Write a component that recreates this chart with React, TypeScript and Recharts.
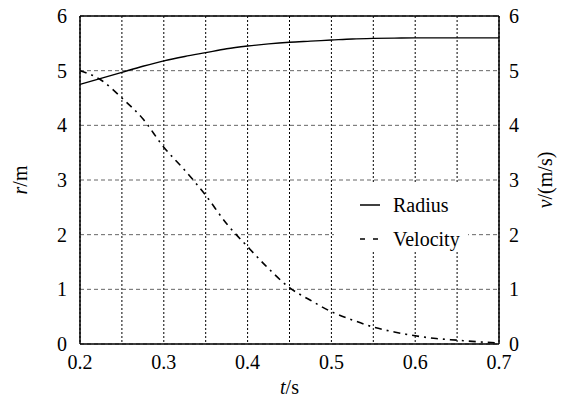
import React from 'react'
import {
  LineChart, Line, XAxis, YAxis, CartesianGrid, Legend, ReferenceLine
} from 'recharts'

// time samples (s)
const times = [
  0.2, 0.225, 0.25, 0.275, 0.3, 0.325, 0.35, 0.375, 0.4, 0.425, 0.45,
  0.475, 0.5, 0.525, 0.55, 0.575, 0.6, 0.625, 0.65, 0.675, 0.7
]
// radius r (m)
const radius = [
  4.75, 4.86, 4.97, 5.08, 5.18, 5.26, 5.33, 5.4, 5.45, 5.49, 5.52,
  5.54, 5.56, 5.58, 5.59, 5.595, 5.6, 5.6, 5.6, 5.6, 5.6
]
// velocity v (m/s)
const velocity = [
  5.0, 4.83, 4.5, 4.12, 3.6, 3.18, 2.72, 2.2, 1.78, 1.38, 1.03,
  0.8, 0.59, 0.44, 0.31, 0.22, 0.15, 0.1, 0.07, 0.04, 0.02
]

const xTicks = [0.2, 0.25, 0.3, 0.35, 0.4, 0.45, 0.5, 0.55, 0.6, 0.65, 0.7]
const yTicks = [0, 1, 2, 3, 4, 5, 6]

const data = times.map((t, i) => ({ t, r: radius[i], v: velocity[i] }))

const FONT = 'Liberation Serif, Times New Roman, Tinos, DejaVu Serif, serif'
const tickStyle = { fill: '#000', fontSize: 20, fontFamily: FONT }
const VEL_DASH = '7 5 2 5'

const fmtX = (v: number) => (Math.round(v * 100) % 10 === 0 ? v.toFixed(1) : '')

const LeftLabel = ({ viewBox }: any) => {
  const cx = viewBox.x + 20
  const cy = viewBox.y + viewBox.height / 2
  return (
    <text x={cx} y={cy} transform={`rotate(-90 ${cx} ${cy})`} textAnchor="middle"
      dominantBaseline="central" fontSize={20} fontFamily={FONT} fill="#000">
      <tspan fontStyle="italic">r</tspan>/m
    </text>
  )
}

const RightLabel = ({ viewBox }: any) => {
  const cx = viewBox.x + 46
  const cy = viewBox.y + viewBox.height / 2
  return (
    <text x={cx} y={cy} transform={`rotate(-90 ${cx} ${cy})`} textAnchor="middle"
      dominantBaseline="central" fontSize={20} fontFamily={FONT} fill="#000">
      <tspan fontStyle="italic">v</tspan>/(m/s)
    </text>
  )
}

const BottomLabel = ({ viewBox }: any) => {
  const cx = viewBox.x + viewBox.width / 2
  const cy = viewBox.y + 43
  return (
    <text x={cx} y={cy} textAnchor="middle" dominantBaseline="central"
      fontSize={20} fontFamily={FONT} fill="#000">
      <tspan fontStyle="italic">t</tspan>/s
    </text>
  )
}

const LegendBox = () => (
  <div style={{ fontFamily: FONT, fontSize: 20, color: '#000', paddingTop: 5 }}>
    <div style={{ display: 'flex', alignItems: 'center', height: 34 }}>
      <svg width={59} height={10}>
        <line x1={26} y1={5} x2={46} y2={5} stroke="#000" strokeWidth={1.5} />
      </svg>
      <span>Radius</span>
    </div>
    <div style={{ display: 'flex', alignItems: 'center', height: 34 }}>
      <svg width={59} height={10}>
        <line x1={26} y1={5} x2={46} y2={5} stroke="#000" strokeWidth={1.5} strokeDasharray="5 8" />
      </svg>
      <span>Velocity</span>
    </div>
  </div>
)

export default function App() {
  return (
    <div style={{ position: 'absolute', left: 0, top: 0, background: '#fff' }}>
      <LineChart width={564} height={401} data={data}
        margin={{ top: 16, right: 0, bottom: 0, left: 0 }}>
        <CartesianGrid yAxisId="left" horizontal={false} stroke="#000" strokeDasharray="2 2" />
        <CartesianGrid yAxisId="left" vertical={false} stroke="#666" strokeDasharray="4 3" />
        <XAxis dataKey="t" type="number" domain={[0.2, 0.7]} ticks={xTicks}
          tickFormatter={fmtX} height={57} tickSize={0} tickMargin={11}
          axisLine={{ stroke: '#000', strokeWidth: 1.5 }} tick={tickStyle}
          interval={0} label={<BottomLabel />} />
        <YAxis yAxisId="left" domain={[0, 6]} ticks={yTicks} width={80}
          tickSize={0} tickMargin={13} axisLine={{ stroke: '#000', strokeWidth: 1.5 }}
          tick={tickStyle} label={<LeftLabel />} />
        <YAxis yAxisId="right" orientation="right" domain={[0, 6]} ticks={yTicks}
          width={65} tickSize={0} tickMargin={10}
          axisLine={{ stroke: '#000', strokeWidth: 1.5 }} tick={{ ...tickStyle, textAnchor: 'start' }}
          label={<RightLabel />} />
        <ReferenceLine yAxisId="left" y={6} stroke="#000" strokeWidth={1.5} />
        <Legend layout="vertical" align="center" verticalAlign="middle"
          content={<LegendBox />}
          wrapperStyle={{ position: 'absolute', left: 334, top: 183, width: 134, height: 67, background: '#fff' }} />
        <Line yAxisId="left" type="monotone" dataKey="r" name="Radius" stroke="#000"
          strokeWidth={1.4} dot={false} isAnimationActive={false} />
        <Line yAxisId="right" type="monotone" dataKey="v" name="Velocity" stroke="#000"
          strokeWidth={1.6} strokeDasharray={VEL_DASH} dot={false} isAnimationActive={false} />
      </LineChart>
    </div>
  )
}
